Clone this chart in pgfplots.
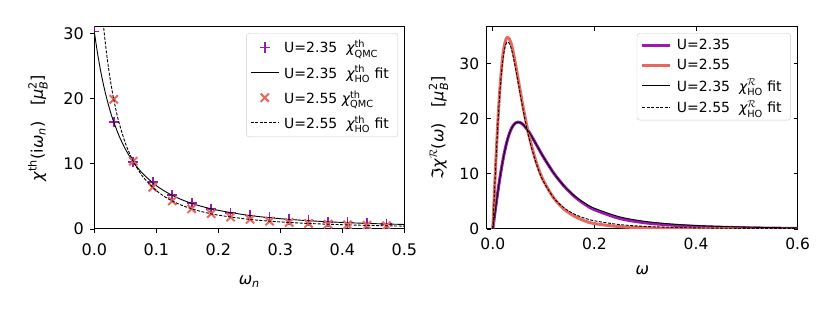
\documentclass[border=0pt]{standalone}
\usepackage{fontspec}
\setmainfont{DejaVu Sans}
\usepackage{amsmath}
\usepackage{pgfplots}
\pgfplotsset{compat=1.18}
\definecolor{cpur}{HTML}{9B19AC}
\definecolor{cpink}{HTML}{E8675E}
\newcommand{\ig}[1]{\text{\itshape #1}}
\newcommand{\fs}[1]{\fontsize{#1}{#1}\selectfont}

\pgfplotsset{
  common/.style={
    scale only axis,
    axis line style={line width=1pt},
    every tick/.style={black,line width=0.9pt},
    major tick length=4pt,
    /pgf/number format/assume math mode=true,
    legend cell align=left,
    legend image code/.code={\draw[mark repeat=2,mark phase=2,##1] plot coordinates {(0pt,0pt) (14pt,0pt) (28pt,0pt)};},
    clip marker paths=true,
  }
}

\begin{document}
\begin{tikzpicture}[x=1pt,y=1pt]
\path[use as bounding box] (0,0) rectangle (831,312);

% ---------------- left panel ----------------
\begin{axis}[common,
  at={(94.3pt,83pt)}, anchor=south west,
  width=310pt, height=202pt,
  xmin=0, xmax=0.5, ymin=0, ymax=31,
  xtick={0,0.1,0.2,0.3,0.4,0.5},
  xticklabels={0.0,0.1,0.2,0.3,0.4,0.5},
  ytick={0,10,20,30},
  tick align=outside, tick pos=left,
  tick label style={font=\fs{16}},
  xticklabel style={yshift=-7pt},
  yticklabel style={xshift=-3pt},
  xlabel={\ig{ω}$_{\ig{n}}$},
  xlabel style={at={(axis description cs:0.5,-0.262)},anchor=center,font=\fs{16}},
  ylabel={\ig{χ}$^{\text{th}}$(i\ig{ω}$_{\ig{n}}$)\quad[\ig{μ}$^{\text{2}}_{\ig{B}}$]},
  ylabel style={at={(axis description cs:-0.182,0.5)},anchor=center,font=\fs{16}},
  legend style={at={(0.98,0.97)},anchor=north east,draw=black!20,rounded corners=3pt,
    fill=white,fill opacity=0.8,text opacity=1,font=\fs{14},row sep=7pt,inner xsep=4pt,inner ysep=5pt,
    nodes={inner xsep=5pt}},
]
\addplot[only marks, mark=+, mark size=5.2pt, cpur, line width=1.6pt] coordinates {
(0,30.3) (0.0314,16.4) (0.0628,10.3) (0.0942,7.2) (0.1257,5.2) (0.1571,3.95)
(0.1885,3.1) (0.2199,2.5) (0.2513,2.07) (0.2827,1.74) (0.3142,1.48) (0.3456,1.28)
(0.3770,1.11) (0.4084,0.98) (0.4398,0.87) (0.4712,0.78) (0.5027,0.70)};
\addlegendentry{U=2.35\ \ \ig{χ}$^{\text{th}}_{\text{QMC}}$}

\addplot[black, line width=0.9pt, smooth] coordinates {
(0,30.30) (0.005,27.09) (0.01,24.37) (0.015,22.05) (0.02,20.05) (0.025,18.31)
(0.03,16.79) (0.04,14.28) (0.05,12.29) (0.06,10.70) (0.07,9.39) (0.08,8.32)
(0.1,6.65) (0.12,5.45) (0.14,4.54) (0.16,3.84) (0.18,3.30) (0.2,2.86)
(0.25,2.08) (0.3,1.583) (0.35,1.244) (0.4,1.004) (0.45,0.827) (0.5,0.693)};
\addlegendentry{U=2.35\ \ \ig{χ}$^{\text{th}}_{\text{HO}}$ fit}

\addplot[only marks, mark=x, mark size=5.8pt, cpink, line width=2pt] coordinates {
(0.0314,19.9) (0.0628,10.4) (0.0942,6.4) (0.1257,4.3) (0.1571,3.1)
(0.1885,2.35) (0.2199,1.83) (0.2513,1.47) (0.2827,1.2) (0.3142,1.0) (0.3456,0.85)
(0.3770,0.73) (0.4084,0.63) (0.4398,0.56) (0.4712,0.49) (0.5027,0.44)};
\addlegendentry{U=2.55 \ig{χ}$^{\text{th}}_{\text{QMC}}$}

\addplot[black, line width=0.9pt, dash pattern=on 3pt off 1.5pt, smooth] coordinates {
(0.01,36.35) (0.015,31.04) (0.02,26.80) (0.025,23.38) (0.03,20.57) (0.035,18.24)
(0.04,16.28) (0.05,13.20) (0.06,10.92) (0.07,9.19) (0.08,7.83) (0.1,5.89)
(0.12,4.59) (0.14,3.68) (0.16,3.01) (0.18,2.51) (0.2,2.126) (0.25,1.477)
(0.3,1.086) (0.35,0.832) (0.4,0.657) (0.45,0.532) (0.5,0.440)};
\addlegendentry{U=2.55\ \ \ig{χ}$^{\text{th}}_{\text{HO}}$ fit}
\end{axis}

% ---------------- right panel ----------------
\begin{axis}[common,
  at={(486.7pt,83pt)}, anchor=south west,
  width=311pt, height=202pt,
  xmin=-0.012, xmax=0.6, ymin=0, ymax=36.6,
  xtick={0,0.2,0.4,0.6},
  xticklabels={0.0,0.2,0.4,0.6},
  ytick={0,10,20,30},
  tick align=inside, tick pos=both,
  tick label style={font=\fs{15.5}},
  yticklabel style={xshift=-4pt},
  xticklabel style={yshift=-5pt},
  xlabel={\ig{ω}},
  xlabel style={at={(axis description cs:0.5,-0.203)},anchor=center,font=\fs{16}},
  ylabel={ℑ\ig{χ}$^{\mathcal{R}}$(\ig{ω})\quad[\ig{μ}$^{\text{2}}_{\ig{B}}$]},
  ylabel style={at={(axis description cs:-0.155,0.5)},anchor=center,font=\fs{16}},
  legend style={at={(0.978,0.97)},anchor=north east,draw=black!20,rounded corners=3pt,
    fill=white,fill opacity=0.8,text opacity=1,font=\fs{14},row sep=4pt,inner xsep=4pt,inner ysep=4pt,
    nodes={inner xsep=5pt}},
]
\addplot[cpur, line width=3pt, smooth, line join=round] coordinates {
(0,0) (0.0025,1.744) (0.005,3.47) (0.01,6.80) (0.015,9.85) (0.02,12.53) (0.025,14.77)
(0.03,16.55) (0.035,17.86) (0.04,18.74) (0.045,19.22) (0.05,19.37) (0.055,19.24)
(0.06,18.90) (0.07,17.74) (0.08,16.22) (0.09,14.59) (0.1,12.99) (0.12,10.11)
(0.14,7.80) (0.16,5.95) (0.18,4.55) (0.2,3.5) (0.25,1.9) (0.3,1.12) (0.35,0.72)
(0.4,0.47) (0.45,0.32) (0.5,0.22) (0.55,0.15) (0.6,0.11)};
\addlegendentry{U=2.35}

\addplot[cpink, line width=3pt, smooth, line join=round] coordinates {
(0,0) (0.0025,5.2) (0.005,10.3) (0.0075,15.1) (0.01,19.5) (0.0125,23.4) (0.015,26.7)
(0.0175,29.4) (0.02,31.6) (0.0225,33.1) (0.025,34.1) (0.0275,34.65) (0.03,34.7)
(0.0325,34.45) (0.035,33.9) (0.0375,33.1) (0.04,32.1) (0.045,29.7) (0.05,27.1)
(0.06,21.9) (0.07,17.4) (0.08,13.8) (0.09,10.9) (0.1,8.7) (0.12,5.6) (0.14,3.6)
(0.16,2.35) (0.18,1.5) (0.2,0.98) (0.25,0.42) (0.3,0.22) (0.35,0.13) (0.4,0.08)
(0.5,0.04) (0.6,0.02)};
\addlegendentry{U=2.55}

\addplot[black, line width=0.9pt, smooth] coordinates {
(0,0) (0.0025,1.744) (0.005,3.47) (0.01,6.80) (0.015,9.85) (0.02,12.53) (0.025,14.77)
(0.03,16.55) (0.035,17.86) (0.04,18.74) (0.045,19.22) (0.05,19.37) (0.055,19.24)
(0.06,18.90) (0.07,17.74) (0.08,16.22) (0.09,14.59) (0.1,12.99) (0.12,10.11)
(0.14,7.82) (0.16,6.07) (0.18,4.75) (0.2,3.76) (0.25,2.20) (0.3,1.376) (0.35,0.910)
(0.4,0.629) (0.45,0.452) (0.5,0.335) (0.55,0.2547) (0.6,0.198)};
\addlegendentry{U=2.35\ \ \ig{χ}$^{\mathcal{R}}_{\text{HO}}$ fit}

\addplot[black, line width=0.9pt, dash pattern=on 3pt off 1.5pt, smooth] coordinates {
(0,0) (0.0025,5.10) (0.005,10.05) (0.0075,14.72) (0.01,19.0) (0.0125,22.79) (0.015,26.0)
(0.0175,28.70) (0.02,30.8) (0.0225,32.30) (0.025,33.3) (0.0275,33.80) (0.03,33.9)
(0.0325,33.63) (0.035,33.1) (0.0375,32.29) (0.04,31.3) (0.045,29.0) (0.05,26.5)
(0.06,21.4) (0.07,17.0) (0.08,13.5) (0.09,10.7) (0.1,8.56) (0.12,5.63) (0.14,3.84)
(0.16,2.72) (0.18,1.982) (0.2,1.485) (0.25,0.794) (0.3,0.4705) (0.35,0.3006)
(0.4,0.2033) (0.5,0.1053) (0.6,0.0613)};
\addlegendentry{U=2.55\ \ \ig{χ}$^{\mathcal{R}}_{\text{HO}}$ fit}
\end{axis}
\end{tikzpicture}
\end{document}
